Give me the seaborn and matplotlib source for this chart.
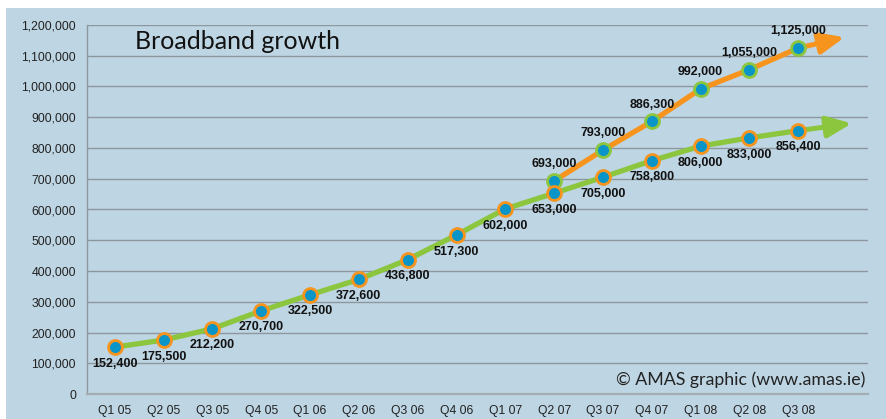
import pandas as pd
import matplotlib
matplotlib.use("Agg")
import matplotlib.pyplot as plt
import seaborn as sns
from matplotlib.ticker import FuncFormatter, MultipleLocator
from matplotlib.patches import Rectangle

# data
quarters = ["Q1 05", "Q2 05", "Q3 05", "Q4 05", "Q1 06", "Q2 06", "Q3 06", "Q4 06",
            "Q1 07", "Q2 07", "Q3 07", "Q4 07", "Q1 08", "Q2 08", "Q3 08"]
green_values = [152400, 175500, 212200, 270700, 322500, 372600, 436800, 517300,
                602000, 653000, 705000, 758800, 806000, 833000, 856400]
orange_quarters = ["Q2 07", "Q3 07", "Q4 07", "Q1 08", "Q2 08", "Q3 08"]
orange_values = [693000, 793000, 886300, 992000, 1055000, 1125000]
# where the trend arrows end (category position, value)
green_arrow_tip = (15.1, 880000)
orange_arrow_tip = (14.95, 1160000)

GREEN = "#8cc63e"
ORANGE = "#f7941d"
DOT = "#0a95c9"
BG = "#bed5e3"
GRID = "#8d979e"

df_green = pd.DataFrame({"x": range(len(quarters)), "valor": green_values})
df_orange = pd.DataFrame({"x": [quarters.index(q) for q in orange_quarters],
                          "valor": orange_values})

sns.set_style("white")
plt.rcParams["font.family"] = ["Liberation Sans", "DejaVu Sans"]

fig = plt.figure(figsize=(8.87, 4.19), dpi=100)
fig.patch.set_facecolor("white")
fig.patches.append(Rectangle((6 / 887, 0), 1, (419 - 8) / 419, transform=fig.transFigure,
                             facecolor=BG, edgecolor="none", zorder=-10))
ax = fig.add_axes([87 / 887, 25 / 419, 781 / 887, 369 / 419])
ax.set_facecolor(BG)
ax.set_zorder(1)

ax.set_ylim(0, 1200000)
ax.set_xlim(-0.57, 15.43)
ax.yaxis.set_major_locator(MultipleLocator(100000))
ax.yaxis.set_major_formatter(FuncFormatter(lambda v, p: f"{int(v):,}"))
ax.grid(axis="y", color=GRID, lw=1.0, zorder=0)
ax.set_axisbelow(True)

for lado in ["top", "right"]:
    ax.spines[lado].set_visible(False)
ax.spines["left"].set_color(GRID)
ax.spines["left"].set_linewidth(1.0)
ax.spines["bottom"].set_color("#a3adb3")
ax.spines["bottom"].set_linewidth(1.6)

ax.set_xticks(list(range(len(quarters))) + [15.43])
ax.set_xticklabels(quarters + [""])
ax.tick_params(axis="x", length=5, width=1, color="#a3adb3", labelsize=8.7,
               labelcolor="#222222", pad=3)
ax.tick_params(axis="y", length=0, labelsize=8.8, labelcolor="#222222", pad=8)

# orange series first, green goes on top
for df, col, tip, edge in [(df_orange, ORANGE, orange_arrow_tip, GREEN),
                           (df_green, GREEN, green_arrow_tip, ORANGE)]:
    last = df.iloc[-1]
    ax.annotate("", xy=tip, xytext=(last["x"], last["valor"]),
                arrowprops=dict(arrowstyle="-|>,head_length=0.75,head_width=0.32",
                                color=col, lw=3.6, mutation_scale=20,
                                shrinkA=0, shrinkB=0),
                zorder=2)
    sns.lineplot(data=df, x="x", y="valor", color=col, lw=3.8, ax=ax, zorder=2)
    sns.scatterplot(data=df, x="x", y="valor", color=DOT, s=100, edgecolor=edge,
                    linewidth=2.0, ax=ax, zorder=3)

for x, v in zip(df_green["x"], df_green["valor"]):
    ax.annotate(f"{v:,}", (x, v), xytext=(0, -12), textcoords="offset points",
                ha="center", va="center", fontsize=9, fontweight="bold", color="#111111")
for x, v in zip(df_orange["x"], df_orange["valor"]):
    ax.annotate(f"{v:,}", (x, v), xytext=(0, 12), textcoords="offset points",
                ha="center", va="center", fontsize=9, fontweight="bold", color="#111111")

ax.set_xlabel("")
ax.set_ylabel("")
ax.text(0.0615, 0.954, "Broadband growth", transform=ax.transAxes, ha="left",
        va="center", fontsize=18, family=["Lato", "DejaVu Sans"], color="#111111")
ax.text(0.996, 0.038, "© AMAS graphic (www.amas.ie)", transform=ax.transAxes,
        ha="right", va="center", fontsize=12.8, family=["Lato", "DejaVu Sans"],
        color="#222222")

fig.savefig("out.png", dpi=100, facecolor=fig.get_facecolor())
